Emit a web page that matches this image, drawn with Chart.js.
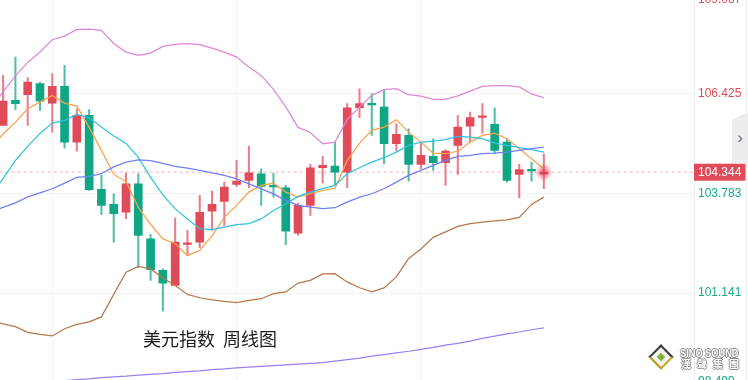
<!DOCTYPE html>
<html><head><meta charset="utf-8">
<script src="https://cdn.jsdelivr.net/npm/chart.js@4.4.1/dist/chart.umd.min.js"></script>
<style>
html,body{margin:0;padding:0;width:748px;height:380px;overflow:hidden;background:#fff;}
body{position:relative;font-family:"Liberation Sans",Arial,sans-serif;}
#wrap{position:absolute;left:0;top:0;width:748px;height:430px;}
#title{position:absolute;left:143px;top:328px;font-size:18px;line-height:20px;font-family:"Noto Sans CJK SC";color:#1e1e1e;white-space:pre;}
#tab{position:absolute;left:732px;top:112px;width:16px;height:51px;background:#ececf1;clip-path:polygon(0 14%,100% 0,100% 100%,0 100%);color:#6e6e78;font-size:17px;line-height:51px;text-align:center;}
#edge{position:absolute;left:746px;top:0;width:1px;height:380px;background:#efefef;}
#logo{position:absolute;left:652px;top:348px;width:14px;height:14px;transform:rotate(45deg);border:2px solid #3a3a3a;border-bottom-color:#b89a1c;border-right-color:#c9a824;background:#f2f2f2;}
#logo i{position:absolute;left:4px;top:4px;width:6px;height:6px;background:#7fb03a;}
.wm{position:absolute;color:#fff;white-space:nowrap;text-shadow:1px 0 0 #8a8a8a,-1px 0 0 #8a8a8a,0 1px 0 #8a8a8a,0 -1px 0 #8a8a8a;}
#wm1{left:680px;top:347px;font:bold 11px/12px "Liberation Sans",Arial,sans-serif;transform-origin:0 0;transform:scaleX(0.84);}
#wm2{left:681px;top:358px;font:bold 10px/11px "Noto Sans CJK TC";letter-spacing:6px;}
</style></head>
<body>
<div id="wrap"><canvas id="c"></canvas></div>
<div id="title">美元指数  周线图</div>
<div id="tab">›</div>
<div id="edge"></div>
<div id="logo"><i></i></div>
<div id="wm1" class="wm">SINO SOUND</div>
<div id="wm2" class="wm">漢聲集團</div>
<script>
// ---- data (weekly candles; index 0 is the week just left of the view) ----
const weeks = ["W00","W01","W02","W03","W04","W05","W06","W07","W08","W09","W10","W11","W12","W13","W14","W15","W16","W17","W18","W19","W20","W21","W22","W23","W24","W25","W26","W27","W28","W29","W30","W31","W32","W33","W34","W35","W36","W37","W38","W39","W40","W41","W42","W43","W44","W45"];
const openP = [null,105.585,106.247,106.398,106.690,106.176,106.618,105.142,105.850,103.889,103.491,103.287,104.039,102.582,101.742,101.344,102.431,102.492,103.313,103.571,104.021,104.127,104.304,103.981,103.933,102.730,103.464,104.463,104.506,104.347,106.053,106.154,106.070,105.099,105.320,104.551,104.763,104.596,105.055,105.566,105.797,105.611,105.142,104.286,104.405,104.299];
const closeP = [null,106.228,106.160,106.732,106.228,106.618,105.142,105.850,103.880,103.465,103.244,104.039,102.670,101.761,101.405,102.492,102.449,103.279,103.491,103.950,104.108,104.331,103.968,103.955,102.783,103.464,104.463,104.525,104.347,106.053,106.160,106.128,105.099,105.346,104.551,104.790,104.596,104.903,105.540,105.789,105.815,104.922,104.127,104.411,104.379,104.344];
const highP = [null,106.910,107.394,106.849,106.724,106.955,107.175,106.027,106.001,104.260,103.774,104.320,104.304,102.696,101.787,103.128,102.802,103.730,103.844,104.082,104.657,105.028,104.437,104.320,103.994,103.525,104.551,104.763,105.142,106.160,106.557,106.425,106.531,105.629,105.497,105.115,105.232,104.941,105.850,105.937,106.160,106.053,105.232,104.551,104.612,104.834];
const lowP = [null,105.585,106.001,105.585,105.982,105.407,104.983,104.903,103.860,103.218,102.492,103.112,101.822,101.477,100.663,101.344,102.140,102.344,102.802,102.935,103.968,103.933,103.465,103.685,102.423,102.670,103.200,104.055,103.995,103.933,105.789,105.320,104.569,104.903,104.108,104.437,104.392,103.994,104.286,105.142,105.380,104.834,104.082,103.669,104.108,103.907];
const ma5 = [104.975,105.359,105.672,106.027,106.202,106.379,106.175,106.096,105.532,104.922,104.286,104.101,103.412,102.961,102.577,102.449,102.140,102.272,102.656,103.147,103.465,103.817,103.995,104.055,103.817,103.685,103.774,103.862,103.915,104.657,105.107,105.452,105.540,105.736,105.407,105.142,104.851,104.834,104.903,105.142,105.320,105.380,105.232,104.967,104.702,104.437];
const ma10 = [103.73,104.180,104.657,105.028,105.373,105.646,105.717,105.876,105.789,105.540,105.306,105.108,104.737,104.207,103.743,103.372,103.107,102.847,102.821,102.890,102.953,102.980,103.107,103.332,103.509,103.703,103.817,103.907,103.995,104.304,104.463,104.612,104.729,104.877,105.055,105.142,105.169,105.206,105.293,105.275,105.232,105.115,105.055,104.994,104.941,104.877];
const ma20 = [103.292,103.412,103.531,103.690,103.796,103.907,104.055,104.207,104.233,104.305,104.485,104.612,104.670,104.652,104.577,104.498,104.453,104.392,104.326,104.260,104.167,104.034,103.902,103.769,103.597,103.465,103.420,103.377,103.404,103.552,103.685,103.774,103.907,104.082,104.260,104.392,104.525,104.657,104.763,104.790,104.834,104.850,104.877,104.922,104.967,105.010];
const bollUpper = [106.035,106.472,106.896,107.254,107.532,107.856,107.951,108.129,108.136,108.102,107.757,107.527,107.440,107.500,107.678,107.731,107.749,107.723,107.633,107.527,107.394,107.135,106.910,106.539,106.075,105.532,105.399,105.099,105.142,105.744,106.069,106.380,106.531,106.557,106.398,106.359,106.274,106.274,106.366,106.494,106.618,106.639,106.639,106.605,106.419,106.318];
const bollLower = [100.404,100.324,100.253,100.099,100.046,100.006,100.197,100.311,100.377,100.510,101.106,101.697,101.848,101.782,101.543,101.344,101.106,101.018,100.963,100.920,100.886,100.947,100.992,101.127,101.172,101.406,101.477,101.649,101.654,101.437,101.283,101.172,101.278,101.570,102.060,102.312,102.617,102.762,102.908,102.980,103.022,103.054,103.080,103.147,103.491,103.684];
const maLong = [98.68,98.70,98.73,98.75,98.78,98.80,98.82,98.85,98.87,98.90,98.92,98.94,98.97,98.99,99.01,99.04,99.06,99.08,99.11,99.13,99.16,99.18,99.20,99.22,99.24,99.26,99.28,99.30,99.34,99.38,99.42,99.47,99.51,99.56,99.60,99.65,99.70,99.76,99.81,99.87,99.94,100.00,100.06,100.11,100.17,100.22];
const yTicks = [98.499,101.141,103.783,106.425,109.067];
const gridWeeks = [5,20,35];
const currentPrice = 104.344;
const titleText = "美元指数  周线图";

// ---- style / layout constants ----
const RED = '#e04b5a', GREEN = '#10a585', TICK_GREEN = '#16a98a';
const RED_W = 'rgba(224,75,90,0.72)', GREEN_W = 'rgba(16,165,133,0.72)';
const X_MIN = 0.7154, X_MAX = 57.22;
const AREA_TOP = -6.4, AREA_H = 398.8;
const FONT = '"Liberation Sans", Arial, sans-serif';

const yMin = yTicks[0], yMax = yTicks[yTicks.length-1];
const idx = weeks.map((w,i)=>i);
const up = i => closeP[i] >= openP[i];
const candleIdx = idx.filter(i => openP[i] !== null);
const lineData = arr => arr.map((v,i)=>({x:i,y:v}));
const lineDs = (arr,color) => ({type:'line',data:lineData(arr),borderColor:color,borderWidth:1.25,pointRadius:0,tension:0,order:1});

const priceLine = {
  id:'priceLine',
  beforeDatasetsDraw(chart){
    const {ctx,chartArea:a,scales:{y}} = chart;
    const py = y.getPixelForValue(currentPrice);
    ctx.save();
    ctx.strokeStyle='rgba(232,120,135,0.45)';ctx.lineWidth=1.3;ctx.setLineDash([3,3]);
    ctx.beginPath();ctx.moveTo(a.left,py);ctx.lineTo(a.right,py);ctx.stroke();
    ctx.restore();
  },
  afterDatasetsDraw(chart){
    const {ctx,scales:{x,y}} = chart;
    const last = weeks.length-1;
    const px = x.getPixelForValue(last), py = y.getPixelForValue(closeP[last]);
    ctx.save();
    const g = ctx.createRadialGradient(px,py,0,px,py,9);
    g.addColorStop(0,'rgba(224,60,80,0.9)');g.addColorStop(0.35,'rgba(224,60,80,0.55)');g.addColorStop(1,'rgba(224,60,80,0)');
    ctx.fillStyle=g;ctx.beginPath();ctx.arc(px,py,9,0,Math.PI*2);ctx.fill();
    ctx.restore();
  },
  afterDraw(chart){
    const {ctx,chartArea:a,scales:{y}} = chart;
    const py = y.getPixelForValue(currentPrice);
    ctx.save();
    ctx.fillStyle=RED;ctx.fillRect(a.right,py-8.5,51.5,17);
    ctx.fillStyle='#fff';ctx.font='12px '+FONT;
    ctx.textBaseline='middle';ctx.textAlign='left';
    ctx.fillText(currentPrice.toFixed(3),a.right+4,py+0.5);
    ctx.restore();
  }
};

const chart = new Chart(document.getElementById('c'),{
  data:{datasets:[
    lineDs(maLong,'#9b7ff0'),
    lineDs(bollUpper,'#df86d8'),
    lineDs(bollLower,'#b8784c'),
    lineDs(ma20,'#7080f2'),
    lineDs(ma10,'#30c3df'),
    lineDs(ma5,'#f8a24c'),
    {type:'bar',order:3,grouped:false,barThickness:1.4,
     data:candleIdx.map(i=>({x:i,y:[lowP[i],highP[i]]})),
     backgroundColor:c=>up(c.raw.x)?RED_W:GREEN_W,borderWidth:0},
    {type:'bar',order:2,grouped:false,barThickness:8,minBarLength:1.6,
     data:candleIdx.map(i=>({x:i,y:[openP[i],closeP[i]]})),
     backgroundColor:c=>up(c.raw.x)?RED:GREEN,borderWidth:0}
  ]},
  options:{
    responsive:true,maintainAspectRatio:false,animation:false,
    layout:{padding:0},
    plugins:{legend:{display:false},tooltip:{enabled:false},title:{display:false}},
    scales:{
      x:{type:'linear',min:X_MIN,max:X_MAX,offset:false,
         afterBuildTicks:s=>{s.ticks=gridWeeks.map(v=>({value:v}));},
         ticks:{display:false},grid:{color:'#f3f3f5',drawTicks:false,offset:false},border:{display:false}},
      y:{type:'linear',position:'right',min:yMin,max:yMax,
         afterBuildTicks:s=>{s.ticks=yTicks.map(v=>({value:v}));},
         afterFit:s=>{s.width=53;},
         ticks:{padding:4,
           font:c=>({size:12,family:FONT,lineHeight:(c.tick&&c.tick.value===yMin)?1.8:(c.tick&&c.tick.value===yMax)?1.0:1.2}),
           color:c=>c.tick.value>currentPrice?RED:TICK_GREEN,
           callback:v=>{const s=Number(v).toFixed(3);return v===yMax?['',s]:v===yMin?[s,'']:s;}},
         grid:{color:'#f1f1f3',drawTicks:false},
         border:{display:true,color:'#ebebee'}}
    }
  },
  plugins:[priceLine]
});

// place the plot so the price scale lines up with the page
(function fit(){
  const wrap=document.getElementById('wrap');
  let a=chart.chartArea;
  const padTop=a.top, padBottom=chart.height-a.bottom;
  wrap.style.height=(padTop+AREA_H+padBottom)+'px';
  chart.resize();
  a=chart.chartArea;
  wrap.style.top=(AREA_TOP-a.top)+'px';
  wrap.style.left=(-a.left)+'px';
})();
</script>
</body></html>
